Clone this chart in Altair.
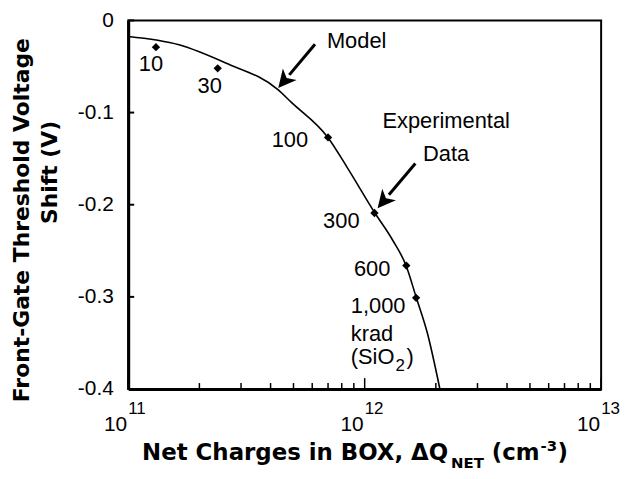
import altair as alt
import pandas as pd

# ---- data ----
model_x = [1.0e11, 1.64e11, 2.57e11, 4.31e11, 4.90e11, 6.99e11, 8.48e11, 1.105e12, 1.31e12, 1.496e12, 1.654e12, 1.84e12, 2.08e12]
model_y = [-0.0175, -0.0265, -0.046, -0.0754, -0.089, -0.127, -0.1605, -0.209, -0.238, -0.266, -0.301, -0.339, -0.400]

exp_x = [1.31e11, 2.39e11, 7.0e11, 1.10e12, 1.50e12, 1.65e12]
exp_y = [-0.029, -0.052, -0.127, -0.209, -0.266, -0.301]
exp_dose = ["10", "30", "100", "300", "600", "1,000"]

y_tick_values = [0, -0.1, -0.2, -0.3, -0.4]
x_decades = [1e11, 1e12, 1e13]
x_exponents = ["11", "12", "13"]
x_minor_ticks = [2e11, 3e11, 4e11, 5e11, 6e11, 7e11, 8e11, 9e11,
                 2e12, 3e12, 4e12, 5e12, 6e12, 7e12, 8e12, 9e12]

W, H = 476, 371
FONT = "Liberation Sans"
BFONT = "DejaVu Sans"

model_df = pd.DataFrame({"q": model_x, "dv": model_y})
exp_df = pd.DataFrame({"q": exp_x, "dv": exp_y, "dose": exp_dose})
ytick_df = pd.DataFrame({"dv": y_tick_values})
dec_df = pd.DataFrame({"q": x_decades, "e": x_exponents, "b": ["10"] * 3})
minor_df = pd.DataFrame({"q": x_minor_ticks})
one = pd.DataFrame({"k": [0]})

xscale = alt.Scale(type="log", domain=[1e11, 1e13], nice=False)
yscale = alt.Scale(domain=[-0.4, 0], nice=False, zero=False)

X = alt.X("q:Q", scale=xscale,
          axis=alt.Axis(labels=False, ticks=False, grid=False, title=None,
                        domainColor="black", domainWidth=3))
Y = alt.Y("dv:Q", scale=yscale,
          axis=alt.Axis(values=y_tick_values, grid=False, title=None,
                        ticks=False, tickSize=0, labelPadding=15,
                        labelExpr="datum.value == 0 ? '0' : '-' + format(abs(datum.value), '.1f')",
                        labelFont=FONT, labelFontSize=21, labelColor="black",
                        domainColor="black", domainWidth=3))

line = alt.Chart(model_df).mark_line(color="black", strokeWidth=1.6, interpolate="monotone").encode(x=X, y=Y)
pts = alt.Chart(exp_df).mark_point(shape="diamond", filled=True, color="black", size=70, opacity=1).encode(x=X, y=Y)

yticks = alt.Chart(ytick_df).mark_rule(color="black", strokeWidth=2).encode(
    y=Y, x=alt.value(0), x2=alt.value(6))
minor = alt.Chart(minor_df).mark_rule(color="black", strokeWidth=1.5).encode(
    x=X, y=alt.value(H), y2=alt.value(H - 6))
major = alt.Chart(dec_df).mark_rule(color="black", strokeWidth=1.5).encode(
    x=X, y=alt.value(H), y2=alt.value(H - 11))

dec_base = alt.Chart(dec_df).mark_text(font=FONT, fontSize=21, align="right", baseline="alphabetic",
                                       dx=-1, color="black").encode(x=X, y=alt.value(H + 42), text="b:N")
dec_exp = alt.Chart(dec_df).mark_text(font=FONT, fontSize=17, align="left", baseline="alphabetic",
                                      dx=0, color="black").encode(x=X, y=alt.value(H + 25), text="e:N")

# point labels
lab_specs = [("10", "center", "middle", -5, 17),
             ("30", "center", "middle", -8, 18),
             ("100", "right", "middle", -20, 3),
             ("300", "right", "middle", -15, 8),
             ("600", "right", "middle", -16, 4)]
pt_labels = []
for lab, al, bl, dx, dy in lab_specs:
    pt_labels.append(
        alt.Chart(exp_df).transform_filter(alt.datum.dose == lab).mark_text(
            font=FONT, fontSize=22, align=al, baseline=bl, dx=dx, dy=dy, color="black"
        ).encode(x=X, y=Y, text="dose:N"))


def txt(text, x, y, size=22, bold=False, align="left", baseline="alphabetic", angle=0):
    kw = dict(text=text, font=BFONT if bold else FONT, fontSize=size, align=align, baseline=baseline,
              color="black", fontWeight="bold" if bold else "normal")
    if angle:
        kw["angle"] = angle
    return alt.Chart(one).mark_text(**kw).encode(x=alt.value(x), y=alt.value(y))


def arrow(x1, y1, x2, y2, ang):
    shaft = alt.Chart(one).mark_rule(color="black", strokeWidth=3).encode(
        x=alt.value(x1), y=alt.value(y1), x2=alt.value(x2 + (x1 - x2) * 0.3), y2=alt.value(y2 + (y1 - y2) * 0.3))
    head = alt.Chart(one).mark_point(shape="M0,0 L0.55,1.1 L0,0.8 L-0.55,1.1 Z", filled=True, color="black",
                                     opacity=1, size=1075, angle=ang).encode(x=alt.value(x2), y=alt.value(y2))
    return [shaft, head]


annots = [
    txt("Model", 200, 28),
    txt("Experimental", 320, 108, align="center"),
    txt("Data", 320, 141, align="center"),
    txt("1,000", 224, 294),
    txt("krad", 224, 323),
    txt("(SiO", 224, 346),
    txt("2", 269, 353, size=17),
    txt(")", 280, 346),
    # y title
    txt("Front-Gate Threshold Voltage", -107, 201, size=22, bold=True, align="center", baseline="middle", angle=270),
    txt("Shift (V)", -79, 153, size=22, bold=True, align="center", baseline="middle", angle=270),
    # x title
    txt("Net Charges in BOX, \u0394Q", 14, 442, size=23, bold=True),
    txt("NET", 325, 450, size=15, bold=True),
    txt("(cm", 366, 442, size=23, bold=True),
    txt("-3", 415, 433, size=15, bold=True),
    txt(")", 432, 442, size=23, bold=True),
]
annots += arrow(188, 24, 151, 68, 220)
annots += arrow(289, 144, 251, 189, 220)

chart = alt.layer(line, yticks, minor, major, pts, dec_base, dec_exp, *pt_labels, *annots).properties(
    width=W, height=H,
    autosize=alt.AutoSizeParams(type="none"),
    padding={"left": 121, "top": 11, "right": 20, "bottom": 82},
).configure_view(stroke="black", strokeWidth=2).configure_axis(domainColor="black")

chart.save("out.html", embed_options={"renderer": "svg", "actions": False})
